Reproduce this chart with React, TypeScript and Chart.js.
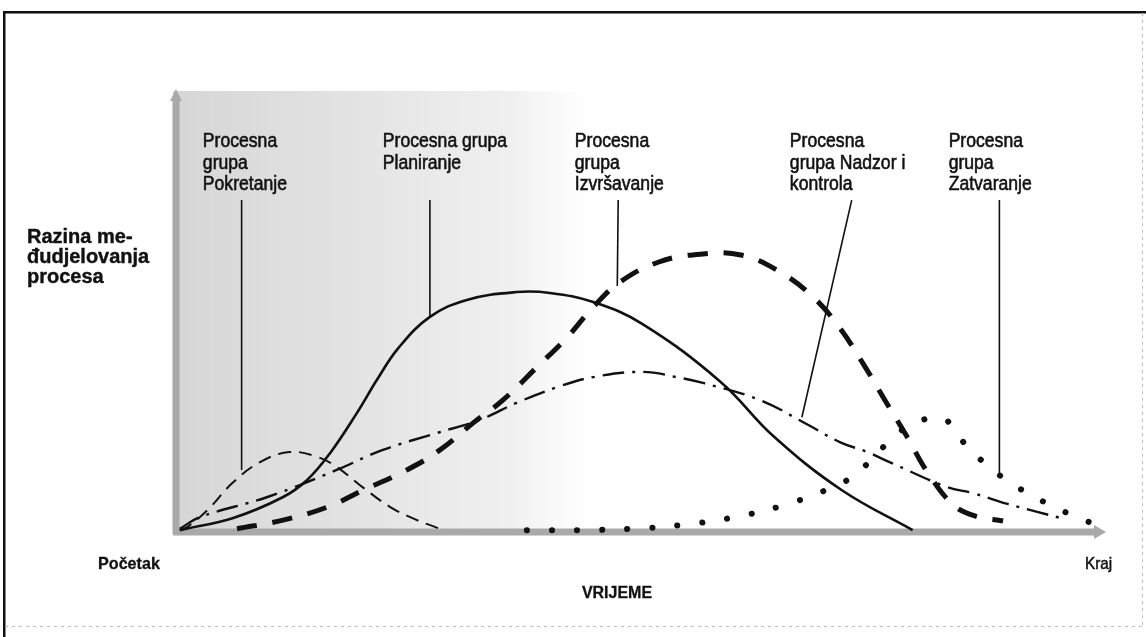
import React, { useEffect, useRef } from "react";
import { Chart, registerables } from "chart.js";

Chart.register(...registerables);

// ---- Data (time 0..100, level of process interaction 0..100) ----
const INIT_T = [0.3, 1.1, 3.3, 6.0, 9.0, 12.2, 15.2, 17.3, 20.2, 23.1, 26.0, 28.2, 28.5];
const INIT_V = [0.2, 0.9, 4.8, 11.0, 15.8, 18.1, 17.0, 14.7, 9.9, 5.5, 2.5, 0.7, 0.2];

const PLAN_T = [0.3, 6.1, 11.5, 14.1, 16.6, 19.5, 21.7, 24.0, 27.4, 31.4, 36.8, 40.4, 45.1, 50.4, 58.9, 64.6, 72.0, 79.7];
const PLAN_V = [0.2, 3.0, 7.8, 11.7, 17.9, 27.1, 34.8, 42.0, 49.1, 53.0, 54.8, 54.6, 52.5, 47.5, 34.2, 21.8, 9.4, 0.2];

const EXEC_T = [6.5, 11.5, 16.3, 20.2, 24.9, 28.5, 32.1, 35.3, 39.0, 42.3, 45.1, 48.0, 52.2, 56.7, 61.1, 65.2, 68.9, 71.8, 74.3, 76.7, 79.1, 81.3, 84.1, 86.5, 89.5];
const EXEC_V = [0.5, 2.5, 5.5, 9.4, 14.0, 18.6, 24.8, 30.0, 37.6, 44.5, 51.4, 57.1, 61.7, 63.5, 63.3, 59.6, 53.7, 46.6, 38.5, 30.0, 21.6, 13.5, 6.0, 3.4, 2.3];

const MON_T = [0.3, 2.5, 9.8, 17.3, 22.3, 28.2, 32.8, 36.8, 41.2, 45.1, 50.5, 54.1, 57.1, 63.2, 68.4, 71.8, 74.8, 77.2, 83.4, 86.2, 90.0, 93.2, 95.7];
const MON_V = [0.5, 3.2, 7.8, 14.0, 18.6, 22.5, 25.5, 29.4, 33.0, 35.3, 36.5, 35.3, 33.9, 30.0, 24.3, 20.4, 18.1, 15.8, 10.1, 8.7, 6.2, 4.4, 3.0];

const CLOSE_T = [37.9, 43.7, 49.2, 54.8, 60.5, 65.9, 71.3, 73.7, 78.0, 80.4, 83.1, 84.9, 86.9, 89.1, 91.4, 93.9, 96.5, 99.1];
const CLOSE_V = [0.2, 0.2, 0.5, 1.4, 3.2, 6.0, 10.3, 13.3, 22.2, 25.2, 25.7, 21.1, 16.7, 12.8, 9.6, 6.7, 4.1, 1.8];

// ---- Callout labels ----
const GROUP_LABELS = [
  ["Procesna", "grupa", "Pokretanje"],
  ["Procesna grupa", "Planiranje"],
  ["Procesna", "grupa", "Izvršavanje"],
  ["Procesna", "grupa Nadzor i", "kontrola"],
  ["Procesna", "grupa", "Zatvaranje"],
];
const LABEL_T = [2.8, 22.3, 43.1, 66.4, 83.6];
const LEADER_FROM_T = [7.0, 27.4, 47.8, 73.1, 89.1];
const LEADER_FROM_V = [75.9, 75.9, 75.9, 75.9, 75.9];
const LEADER_TO_T = [7.0, 27.4, 47.7, 67.7, 89.1];
const LEADER_TO_V = [14.0, 49.3, 56.2, 26.1, 12.8];

const Y_TITLE = ["Razina me-", "đudjelovanja", "procesa"];
const X_TITLE = "VRIJEME";
const X_START = "Početak";
const X_END = "Kraj";
const SHADE_END_T = 42;

const toPts = (t: number[], v: number[]) => t.map((tt, i) => ({ x: tt, y: v[i] }));

const FONT = "'Liberation Sans', Arial, Helvetica, sans-serif";

function heavyText(ctx: CanvasRenderingContext2D, s: string, x: number, y: number, w = 0.5) {
  ctx.lineWidth = w;
  ctx.strokeStyle = "#111";
  ctx.strokeText(s, x, y);
  ctx.fillText(s, x, y);
}

const decor = {
  id: "pmDecor",
  beforeDatasetsDraw(chart: any) {
    const { ctx, chartArea } = chart;
    const { top } = chartArea;
    const xs = chart.scales.x;
    const ys = chart.scales.y;
    const x0 = xs.getPixelForValue(0);
    const x100 = xs.getPixelForValue(100);
    const y0 = ys.getPixelForValue(0);
    const xe = xs.getPixelForValue(SHADE_END_T);
    ctx.save();
    const g = ctx.createLinearGradient(x0, 0, xe + 30, 0);
    g.addColorStop(0, "rgba(165,165,165,0.45)");
    g.addColorStop(0.4, "rgba(175,175,175,0.36)");
    g.addColorStop(0.8, "rgba(190,190,190,0.24)");
    g.addColorStop(1, "rgba(220,220,220,0)");
    ctx.fillStyle = g;
    ctx.fillRect(x0 - 4, top - 4, xe + 30 - x0, y0 - top + 8);
    ctx.strokeStyle = "#a9a9a9";
    ctx.lineWidth = 7;
    ctx.beginPath();
    ctx.moveTo(x0 - 1, y0 + 3);
    ctx.lineTo(x0 - 1, top + 2);
    ctx.stroke();
    ctx.beginPath();
    ctx.moveTo(x0 - 4, y0 + 1);
    ctx.lineTo(x100 - 2, y0 + 1);
    ctx.stroke();
    ctx.fillStyle = "#a9a9a9";
    ctx.beginPath();
    ctx.moveTo(x100 + 6, y0 + 1);
    ctx.lineTo(x100 - 6, y0 - 6);
    ctx.lineTo(x100 - 6, y0 + 8);
    ctx.closePath();
    ctx.fill();
    ctx.beginPath();
    ctx.moveTo(x0 - 1, top - 6);
    ctx.lineTo(x0 - 7, top + 6);
    ctx.lineTo(x0 + 5, top + 6);
    ctx.closePath();
    ctx.fill();
    ctx.restore();
  },
  afterDatasetsDraw(chart: any) {
    const { ctx } = chart;
    const xs = chart.scales.x;
    const ys = chart.scales.y;
    const W = chart.width;
    const H = chart.height;
    ctx.save();
    ctx.strokeStyle = "#111";
    ctx.lineWidth = 1.6;
    for (let i = 0; i < LEADER_FROM_T.length; i++) {
      ctx.beginPath();
      ctx.moveTo(xs.getPixelForValue(LEADER_FROM_T[i]), ys.getPixelForValue(LEADER_FROM_V[i]));
      ctx.lineTo(xs.getPixelForValue(LEADER_TO_T[i]), ys.getPixelForValue(LEADER_TO_V[i]));
      ctx.stroke();
    }
    ctx.fillStyle = "#111";
    ctx.font = `20px ${FONT}`;
    ctx.textBaseline = "alphabetic";
    ctx.textAlign = "left";
    const baseY = 147;
    GROUP_LABELS.forEach((lines, i) => {
      const px = xs.getPixelForValue(LABEL_T[i]);
      lines.forEach((ln, j) => {
        ctx.save();
        ctx.translate(px, baseY + j * 21.5);
        ctx.scale(0.88, 1);
        heavyText(ctx, ln, 0, 0, 0.6);
        ctx.restore();
      });
    });
    ctx.font = `bold 20px ${FONT}`;
    Y_TITLE.forEach((ln, j) => heavyText(ctx, ln, 27, 243 + j * 20, 0.4));
    ctx.font = `bold 17px ${FONT}`;
    ctx.save();
    ctx.translate(98, 569);
    ctx.scale(0.95, 1);
    heavyText(ctx, X_START, 0, 0, 0.3);
    ctx.restore();
    ctx.font = `17px ${FONT}`;
    ctx.save();
    ctx.translate(1085, 569);
    ctx.scale(0.9, 1);
    heavyText(ctx, X_END, 0, 0, 0.5);
    ctx.restore();
    ctx.font = `bold 16px ${FONT}`;
    ctx.textAlign = "center";
    heavyText(ctx, X_TITLE, 617, 598, 0.3);
    ctx.fillStyle = "#111";
    ctx.fillRect(3, 11, 2.5, H - 11);
    ctx.fillRect(3, 11, W - 3, 2.5);
    ctx.strokeStyle = "#bbb";
    ctx.lineWidth = 1;
    ctx.setLineDash([3, 4]);
    ctx.beginPath();
    ctx.moveTo(W - 3.5, 13);
    ctx.lineTo(W - 3.5, H - 10);
    ctx.moveTo(5, H - 10.5);
    ctx.lineTo(W - 3, H - 10.5);
    ctx.stroke();
    ctx.restore();
  },
};

export default function App() {
  const ref = useRef<HTMLCanvasElement | null>(null);
  useEffect(() => {
    if (!ref.current) return;
    const common = {
      pointRadius: 0,
      fill: false,
      tension: 0.4,
      clip: false as any,
      borderColor: "#111",
    };
    const chart = new Chart(ref.current, {
      type: "line",
      data: {
        datasets: [
          { ...common, label: "Pokretanje", data: toPts(INIT_T, INIT_V), borderWidth: 2, borderDash: [13, 8] },
          { ...common, label: "Planiranje", data: toPts(PLAN_T, PLAN_V), borderWidth: 2.6 },
          { ...common, label: "Izvršavanje", data: toPts(EXEC_T, EXEC_V), borderWidth: 5, borderDash: [20, 16] },
          { ...common, label: "Nadzor i kontrola", data: toPts(MON_T, MON_V), borderWidth: 2.4, borderDash: [22, 8, 3, 8] },
          { ...common, label: "Zatvaranje", data: toPts(CLOSE_T, CLOSE_V), borderWidth: 6, borderDash: [0.1, 25], borderCapStyle: "round" },
        ],
      },
      options: {
        animation: false,
        responsive: false,
        maintainAspectRatio: false,
        layout: { padding: { left: 177, right: 46, top: 95, bottom: 106 } },
        scales: {
          x: { type: "linear", min: 0, max: 100, display: false },
          y: { type: "linear", min: 0, max: 100, display: false },
        },
        plugins: { legend: { display: false }, tooltip: { enabled: false } },
        events: [],
      },
      plugins: [decor],
    });
    return () => chart.destroy();
  }, []);
  return (
    <div style={{ position: "absolute", left: 0, top: 0, width: 1146, height: 637, background: "#fff" }}>
      <canvas ref={ref} width={1146} height={637} style={{ width: 1146, height: 637, display: "block" }} />
    </div>
  );
}
